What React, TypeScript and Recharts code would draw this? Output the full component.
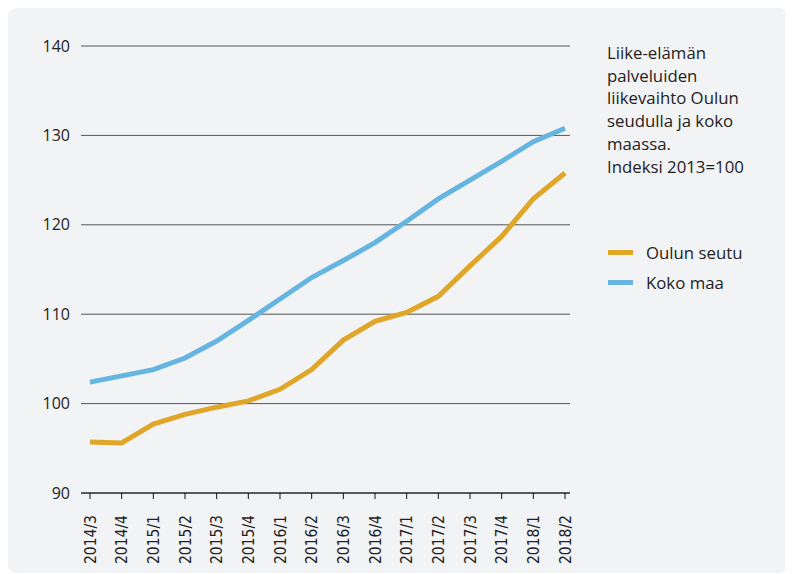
import { LineChart, Line, XAxis, YAxis, CartesianGrid, Legend } from 'recharts'

const quarters = [
  '2014/3', '2014/4', '2015/1', '2015/2', '2015/3', '2015/4', '2016/1', '2016/2',
  '2016/3', '2016/4', '2017/1', '2017/2', '2017/3', '2017/4', '2018/1', '2018/2',
]

const oulunSeutu = [
  95.7, 95.6, 97.7, 98.8, 99.6, 100.3, 101.6, 103.8,
  107.1, 109.2, 110.2, 112.0, 115.4, 118.7, 122.9, 125.8,
]

const kokoMaa = [
  102.4, 103.1, 103.8, 105.1, 107.0, 109.3, 111.7, 114.1,
  116.0, 118.0, 120.4, 122.9, 125.0, 127.1, 129.3, 130.8,
]

const yTicks = [90, 100, 110, 120, 130, 140]

const seriesNames = ['Oulun seutu', 'Koko maa']

const titleLines = [
  'Liike-elämän',
  'palveluiden',
  'liikevaihto Oulun',
  'seudulla ja koko',
  'maassa.',
  'Indeksi 2013=100',
]

const ORANGE = '#dfa627'
const BLUE = '#65b5e0'
const FONT = '"Open Sans", Lato, sans-serif'

const data = quarters.map((q, i) => ({
  q,
  oulu: oulunSeutu[i],
  koko: kokoMaa[i],
}))

const QuarterTick = ({ x, y, payload }: any) => (
  <g transform={`translate(${x},${y})`}>
    <text
      transform="rotate(-90)"
      x={-14}
      y={0}
      dy="0.36em"
      textAnchor="end"
      fill="#222"
      style={{ fontFamily: '"DejaVu Sans Condensed", "DejaVu Sans", sans-serif', fontSize: 15.5 }}
    >
      {payload.value}
    </text>
  </g>
)

// keep legend in series order (recharts sorts by name otherwise)
const LegendBox = ({ payload }: any) => {
  const items = [...(payload || [])].sort(
    (a: any, b: any) => seriesNames.indexOf(a.value) - seriesNames.indexOf(b.value)
  )
  return (
    <div>
      {items.map((p: any) => (
        <div key={p.value} style={{ display: 'flex', alignItems: 'center', height: 30 }}>
          <span style={{ width: 25, height: 5, background: p.color, display: 'inline-block' }} />
          <span style={{ marginLeft: 13, fontSize: 16.8, color: '#222' }}>{p.value}</span>
        </div>
      ))}
    </div>
  )
}

export default function App() {
  return (
    <div
      style={{
        position: 'relative',
        width: 784,
        height: 565,
        marginLeft: -2,
        background: '#f2f3f5',
        borderRadius: 12,
        fontFamily: FONT,
      }}
    >
      <LineChart
        width={784}
        height={565}
        data={data}
        margin={{ top: 38, right: 220, bottom: 0, left: 0 }}
      >
        <CartesianGrid horizontal vertical={false} stroke="#555" />
        <XAxis
          dataKey="q"
          interval={0}
          height={80}
          padding={{ left: 9, right: 5 }}
          stroke="#111"
          tickSize={6}
          tick={<QuarterTick />}
        />
        <YAxis
          domain={[90, 140]}
          ticks={yTicks}
          width={75}
          axisLine={false}
          tickLine={false}
          tickMargin={5}
          tick={{ fill: '#222', fontSize: 16, fontFamily: FONT }}
        />
        <Line
          dataKey="oulu"
          name={seriesNames[0]}
          type="linear"
          stroke={ORANGE}
          strokeWidth={5}
          dot={false}
          isAnimationActive={false}
        />
        <Line
          dataKey="koko"
          name={seriesNames[1]}
          type="linear"
          stroke={BLUE}
          strokeWidth={5}
          dot={false}
          isAnimationActive={false}
        />
        <Legend
          layout="horizontal"
          align="center"
          verticalAlign="middle"
          content={<LegendBox />}
          wrapperStyle={{ position: 'absolute', left: 602, top: 229, width: 175 }}
        />
      </LineChart>
      <div
        style={{
          position: 'absolute',
          left: 601,
          top: 34,
          fontSize: 16.8,
          lineHeight: '22.7px',
          color: '#222',
        }}
      >
        {titleLines.map((t) => (
          <div key={t}>{t}</div>
        ))}
      </div>
    </div>
  )
}
